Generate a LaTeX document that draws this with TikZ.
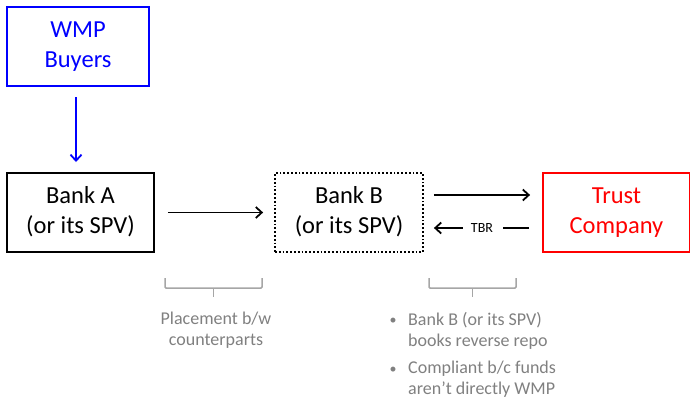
\documentclass[tikz,border=0pt]{standalone}
\usepackage{fontspec}
\setmainfont{Carlito}
\usetikzlibrary{arrows.meta}
\definecolor{txtgray}{RGB}{128,128,128}
\definecolor{brgray}{RGB}{166,166,166}
\newcommand{\twoline}[2]{\raisebox{-2pt}{\begin{tabular}{@{}c@{}}#1\\#2\end{tabular}}}
\begin{document}
\begin{tikzpicture}[x=1pt,y=1pt,
  box/.style={draw,line width=1.8pt,minimum width=#1,minimum height=79pt,inner sep=0pt,font=\fontsize{24.5}{30}\selectfont},
  box/.default=147pt,
  arr/.style={-{Straight Barb[length=6pt,width=11pt]},line width=1.8pt},
  brk/.style={draw=brgray,line width=1.5pt},
  note/.style={text=txtgray,font=\fontsize{18}{21}\selectfont,align=left,inner sep=0pt}
]
\useasboundingbox (0,0) rectangle (690,-399);
\node[box=142pt,draw=blue,text=blue] (wmp) at (78,-46.5) {\twoline{WMP}{Buyers}};
\node[box] (a) at (80.5,-212.5) {\twoline{Bank A}{(or its SPV)}};
\node[box=148pt,dotted] (b) at (349,-212.5) {\twoline{Bank B}{(or its SPV)}};
\node[box,draw=red,text=red] (t) at (616.5,-212.5) {\twoline{Trust}{Company}};
\coordinate (w1) at (76,-97);
\coordinate (w2) at (76,-162);
\draw[arr,blue] (w1) -- (w2);
\coordinate (aE) at ([xshift=13pt]a.east);
\coordinate (bW) at ([xshift=-11pt]b.west);
\draw[arr] (aE) -- (bW);
\draw[arr] ([xshift=10pt,yshift=17.5pt]b.east) -- ([xshift=-12pt,yshift=17.5pt]t.west);
\node[font=\fontsize{14}{14}\selectfont,inner sep=0pt] (tbr) at (482,-228) {TBR};
\draw[line width=1.8pt] ([xshift=-13pt,yshift=-15.5pt]t.west) -- ([xshift=10pt]tbr.east);
\draw[arr] ([xshift=-8pt]tbr.west) -- ([xshift=10pt,yshift=-15.5pt]b.east);
\draw[brk,rounded corners=1pt] (165,-278) -- (165,-288) -- (262,-288) -- (262,-278);
\draw[brk] (213.5,-288) -- (213.5,-297);
\draw[brk,rounded corners=1pt] (429,-278) -- (429,-288) -- (516,-288) -- (516,-278);
\draw[brk] (472.5,-288) -- (472.5,-297);
\node[note,anchor=north,align=center] (pl) at (216,-312) {Placement b/w\\counterparts};
\node[note,anchor=north west] (n1) at (408,-312) {Bank B (or its SPV)\\books reverse repo};
\node[note,anchor=north west] (n2) at (408,-361) {Compliant b/c funds\\aren’t directly WMP};
\node[text=txtgray,font=\fontsize{14}{14}\selectfont,inner sep=0pt] at (393,-321) {•};
\node[text=txtgray,font=\fontsize{14}{14}\selectfont,inner sep=0pt] at (393,-370) {•};
\end{tikzpicture}
\end{document}
